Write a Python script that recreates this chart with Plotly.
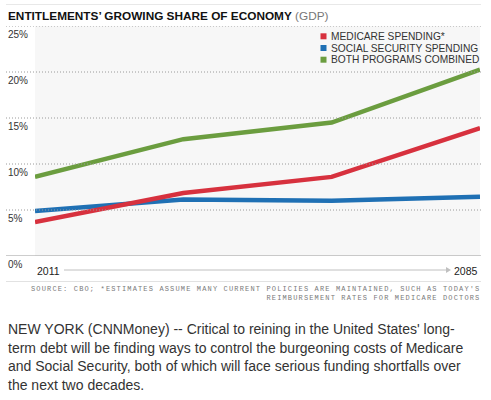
import plotly.graph_objects as go

# ---- data ----
periods = ["2011", "2035", "2060", "2085"]
medicare = [3.7, 6.85, 8.6, 13.9]
social_security = [4.9, 6.15, 6.0, 6.45]
combined = [8.6, 12.7, 14.5, 20.25]
series_names = ["MEDICARE SPENDING*", "SOCIAL SECURITY SPENDING", "BOTH PROGRAMS COMBINED"]
series_values = [medicare, social_security, combined]
series_colors = ["#d7313e", "#1f70b4", "#6b9d3f"]
y_ticks = [0, 5, 10, 15, 20, 25]
y_tick_labels = ["0%", "5%", "10%", "15%", "20%", "25%"]

title_main = "ENTITLEMENTS’ GROWING SHARE OF ECONOMY"
title_sub = "(GDP)"
source_lines = [
    "SOURCE: CBO; *ESTIMATES ASSUME MANY CURRENT POLICIES ARE MAINTAINED, SUCH AS TODAY'S",
    "REIMBURSEMENT RATES FOR MEDICARE DOCTORS",
]
paragraph_lines = [
    "NEW YORK (CNNMoney) -- Critical to reining in the United States' long-",
    "term debt will be finding ways to control the burgeoning costs of Medicare",
    "and Social Security, both of which will face serious funding shortfalls over",
    "the next two decades.",
]

# ---- geometry ----
W, H = 491, 400
L, R, T, B = 35, 11, 26, 144
PW, PH = W - L - R, H - T - B
BASE = H - B


def px(x):
    return (x - L) / PW


def py(y):
    return (BASE - y) / PH


FONT = "Liberation Sans, Arial, sans-serif"

fig = go.Figure()
draw_order = [1, 0, 2]
for i in draw_order:
    fig.add_trace(go.Scatter(
        x=periods, y=series_values[i], mode="lines", name=series_names[i],
        line=dict(color=series_colors[i], width=4.5), hoverinfo="skip",
        showlegend=False,
    ))

shapes = []
annotations = []

# faint top rule
shapes.append(dict(type="line", xref="paper", yref="paper", x0=px(6), x1=px(481),
                   y0=py(4.5), y1=py(4.5), line=dict(color="#e8e8e8", width=1)))

# gridlines and tick labels
for v, lab in zip(y_ticks, y_tick_labels):
    if v == 0:
        shapes.append(dict(type="line", xref="paper", yref="y", x0=px(6), x1=px(481),
                           y0=v, y1=v, line=dict(color="#9a9a9a", width=1)))
    else:
        shapes.append(dict(type="line", xref="paper", yref="y", x0=px(6), x1=px(481),
                           y0=v, y1=v, line=dict(color="#9a9a9a", width=1, dash="1px,2px")))
    annotations.append(dict(xref="paper", yref="y", x=px(6), y=v, text=lab,
                            showarrow=False, xanchor="left", yanchor="middle", yshift=-8.5,
                            font=dict(family=FONT, size=10, color="#333")))

# title
annotations.append(dict(
    xref="paper", yref="paper", x=px(6), y=py(16), xanchor="left", yanchor="middle",
    showarrow=False,
    text=f"<b>{title_main}</b> <span style='color:#777'>{title_sub}</span>",
    font=dict(family=FONT, size=11.8, color="#111")))

# x-axis end labels and arrow
annotations.append(dict(xref="x", yref="paper", x=0, y=py(270.5), text=periods[0],
                        showarrow=False, xanchor="left", yanchor="middle",
                        font=dict(family=FONT, size=10.5, color="#222")))
annotations.append(dict(xref="x", yref="paper", x=len(periods) - 1, y=py(270.5), text=periods[-1],
                        showarrow=False, xanchor="right", yanchor="middle",
                        font=dict(family=FONT, size=10.5, color="#222")))
shapes.append(dict(type="line", xref="paper", yref="paper", x0=px(64), x1=px(447),
                   y0=py(270), y1=py(270), line=dict(color="#c0c0c0", width=1)))
shapes.append(dict(type="path", xref="paper", yref="paper",
                   path=f"M {px(446)} {py(267)} L {px(451)} {py(270)} L {px(446)} {py(273)} Z",
                   fillcolor="#c0c0c0", line=dict(color="#c0c0c0", width=0)))

# bottom rule
shapes.append(dict(type="line", xref="paper", yref="paper", x0=px(6), x1=px(481),
                   y0=py(281.5), y1=py(281.5), line=dict(color="#e2e2e2", width=1)))

# source lines (one annotation, letter-spaced)
src_text = "<br>".join(f"<span style='letter-spacing:1.15px'>{s}</span>" for s in source_lines)
annotations.append(dict(xref="paper", yref="paper", x=px(482), y=py(283), text=src_text,
                        showarrow=False, xanchor="right", yanchor="top", align="right",
                        font=dict(family="Liberation Mono, monospace", size=7, color="#7a7a7a")))

# paragraph
for k, line in enumerate(paragraph_lines):
    annotations.append(dict(xref="paper", yref="paper", x=px(6), y=py(329 + 18.6 * k),
                            text=line, showarrow=False, xanchor="left", yanchor="middle",
                            font=dict(family=FONT, size=14, color="#333")))

# legend
for k, (name, col) in enumerate(zip(series_names, series_colors)):
    cy = 36.3 + 11.7 * k
    shapes.append(dict(type="rect", xref="paper", yref="paper",
                       x0=px(320.5), x1=px(326.5), y0=py(cy - 3), y1=py(cy + 3),
                       fillcolor=col, line=dict(width=0)))
    annotations.append(dict(xref="paper", yref="paper", x=px(328.5), y=py(cy), text=name,
                            showarrow=False, xanchor="left", yanchor="middle",
                            font=dict(family=FONT, size=10.2, color="#333")))

fig.update_layout(
    width=W, height=H, autosize=False,
    margin=dict(l=L, r=R, t=T, b=B, pad=0),
    paper_bgcolor="white", plot_bgcolor="#f7f7f7",
    xaxis=dict(type="category", range=[0, len(periods) - 1], showgrid=False, zeroline=False,
               showticklabels=False, showline=False, ticks=""),
    yaxis=dict(range=[y_ticks[0], y_ticks[-1]], showgrid=False, zeroline=False,
               showticklabels=False, showline=False, ticks=""),
    shapes=shapes, annotations=annotations, showlegend=False,
)

fig.write_html("out.html", config={"displayModeBar": False},
               post_script="document.body.style.margin='0';")
